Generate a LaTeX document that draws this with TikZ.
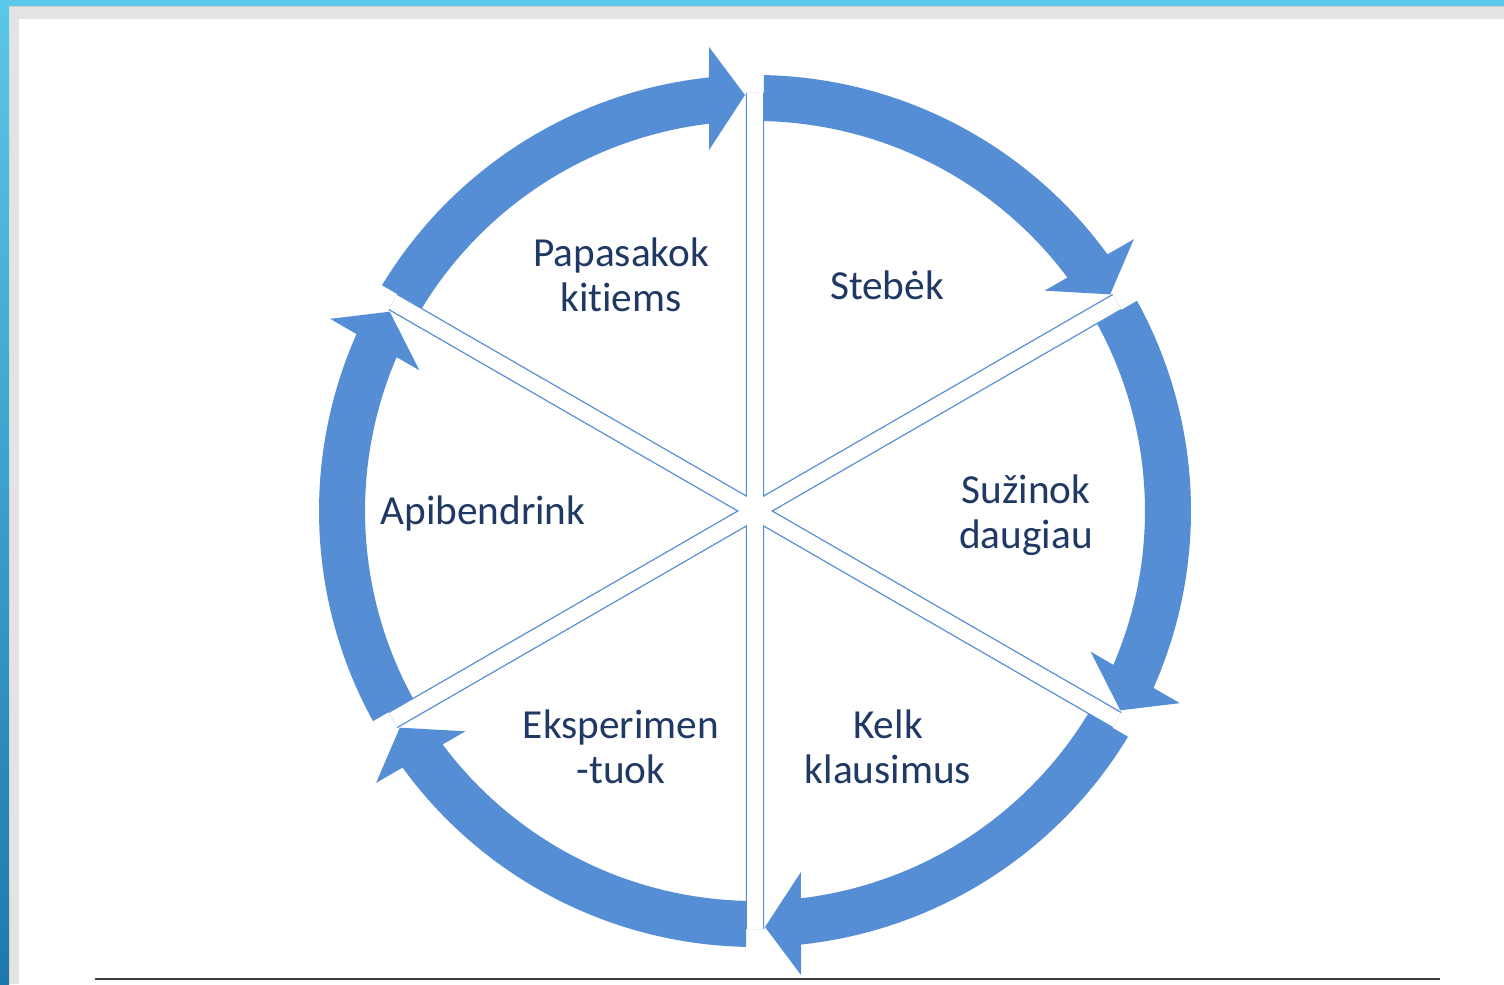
\documentclass[tikz,border=0pt]{standalone}
\usepackage{fontspec}
\setmainfont{Carlito}[Ligatures=NoCommon]
\definecolor{ringblue}{RGB}{85,142,213}
\definecolor{labelnavy}{RGB}{31,56,100}
\definecolor{framegrey}{RGB}{227,227,227}
\definecolor{edgegrey}{RGB}{205,205,205}
\definecolor{barcyan}{RGB}{90,200,232}
\definecolor{bardeep}{RGB}{30,120,172}

\begin{document}
\begin{tikzpicture}[x=0.02cm,y=0.02cm,
    lbl/.style={text=labelnavy,align=center,anchor=base,font=\fontsize{23.5}{26.1}\selectfont},
    ringarrow/.style={fill=ringblue},
    spokes/.style={draw=ringblue,line width=0.75pt,double=white,double distance=9pt}]
  \useasboundingbox (0,0) rectangle (1504,984);
  % slide frame
  \fill[white] (0,0) rectangle (1504,984);
  \fill[framegrey] (9,0) rectangle (1504,978);
  \fill[white] (19,0) rectangle (1504,965);
  \draw[edgegrey,line width=0.6pt] (9,978) -- (1504,978);
  \shade[top color=barcyan,bottom color=bardeep] (0,0) rectangle (9,984);
  \fill[barcyan] (0,978) rectangle (1504,984);
  \draw[black!75,line width=1.2pt] (95,5) -- (1440,5);

  \begin{scope}[shift={(755,473)}]
    \coordinate (c) at (0,0);
    \coordinate (s1) at (90:418);
    \coordinate (s2) at (30:418);
    \coordinate (s3) at (-30:418);
    \coordinate (s4) at (-90:418);
    \coordinate (s5) at (-150:418);
    \coordinate (s6) at (150:418);
    % ring of arrows
    \fill[ringarrow] (88.82:436) arc[start angle=88.82,end angle=36.06,radius=436] -- (35.66:466.3) -- (31.38:416.1) -- (37.26:363.9) -- (36.77:390) arc[start angle=36.77,end angle=88.68,radius=390] -- cycle;
    \fill[ringarrow] (28.82:436) arc[start angle=28.82,end angle=-23.94,radius=436] -- (-24.34:466.3) -- (-28.62:416.1) -- (-22.74:363.9) -- (-23.23:390) arc[start angle=-23.23,end angle=28.68,radius=390] -- cycle;
    \fill[ringarrow] (-31.18:436) arc[start angle=-31.18,end angle=-83.94,radius=436] -- (-84.34:466.3) -- (-88.62:416.1) -- (-82.74:363.9) -- (-83.23:390) arc[start angle=-83.23,end angle=-31.32,radius=390] -- cycle;
    \fill[ringarrow] (-91.18:436) arc[start angle=-91.18,end angle=-143.94,radius=436] -- (-144.34:466.3) -- (-148.62:416.1) -- (-142.74:363.9) -- (-143.23:390) arc[start angle=-143.23,end angle=-91.32,radius=390] -- cycle;
    \fill[ringarrow] (-151.18:436) arc[start angle=-151.18,end angle=-203.94,radius=436] -- (-204.34:466.3) -- (-208.62:416.1) -- (-202.74:363.9) -- (-203.23:390) arc[start angle=-203.23,end angle=-151.32,radius=390] -- cycle;
    \fill[ringarrow] (148.82:436) arc[start angle=148.82,end angle=96.06,radius=436] -- (95.66:466.3) -- (91.38:416.1) -- (97.26:363.9) -- (96.77:390) arc[start angle=96.77,end angle=148.68,radius=390] -- cycle;
    % dividers
    \draw[spokes] (c) -- (s1) (c) -- (s2) (c) -- (s3) (c) -- (s4) (c) -- (s5) (c) -- (s6);
  \end{scope}

  \node[lbl] (stebek) at (887,684) {Stebėk};
  \node[lbl] (suzinok) at (1026,435) {Sužinok\\daugiau};
  \node[lbl] (kelk) at (888,200) {Kelk\\klausimus};
  \node[lbl] (eksp) at (621,200) {Eksperimen\\-tuok};
  \node[lbl] (apib) at (483,459) {Apibendrink};
  \node[lbl] (papas) at (621,672) {Papasakok\\kitiems};
\end{tikzpicture}
\end{document}
